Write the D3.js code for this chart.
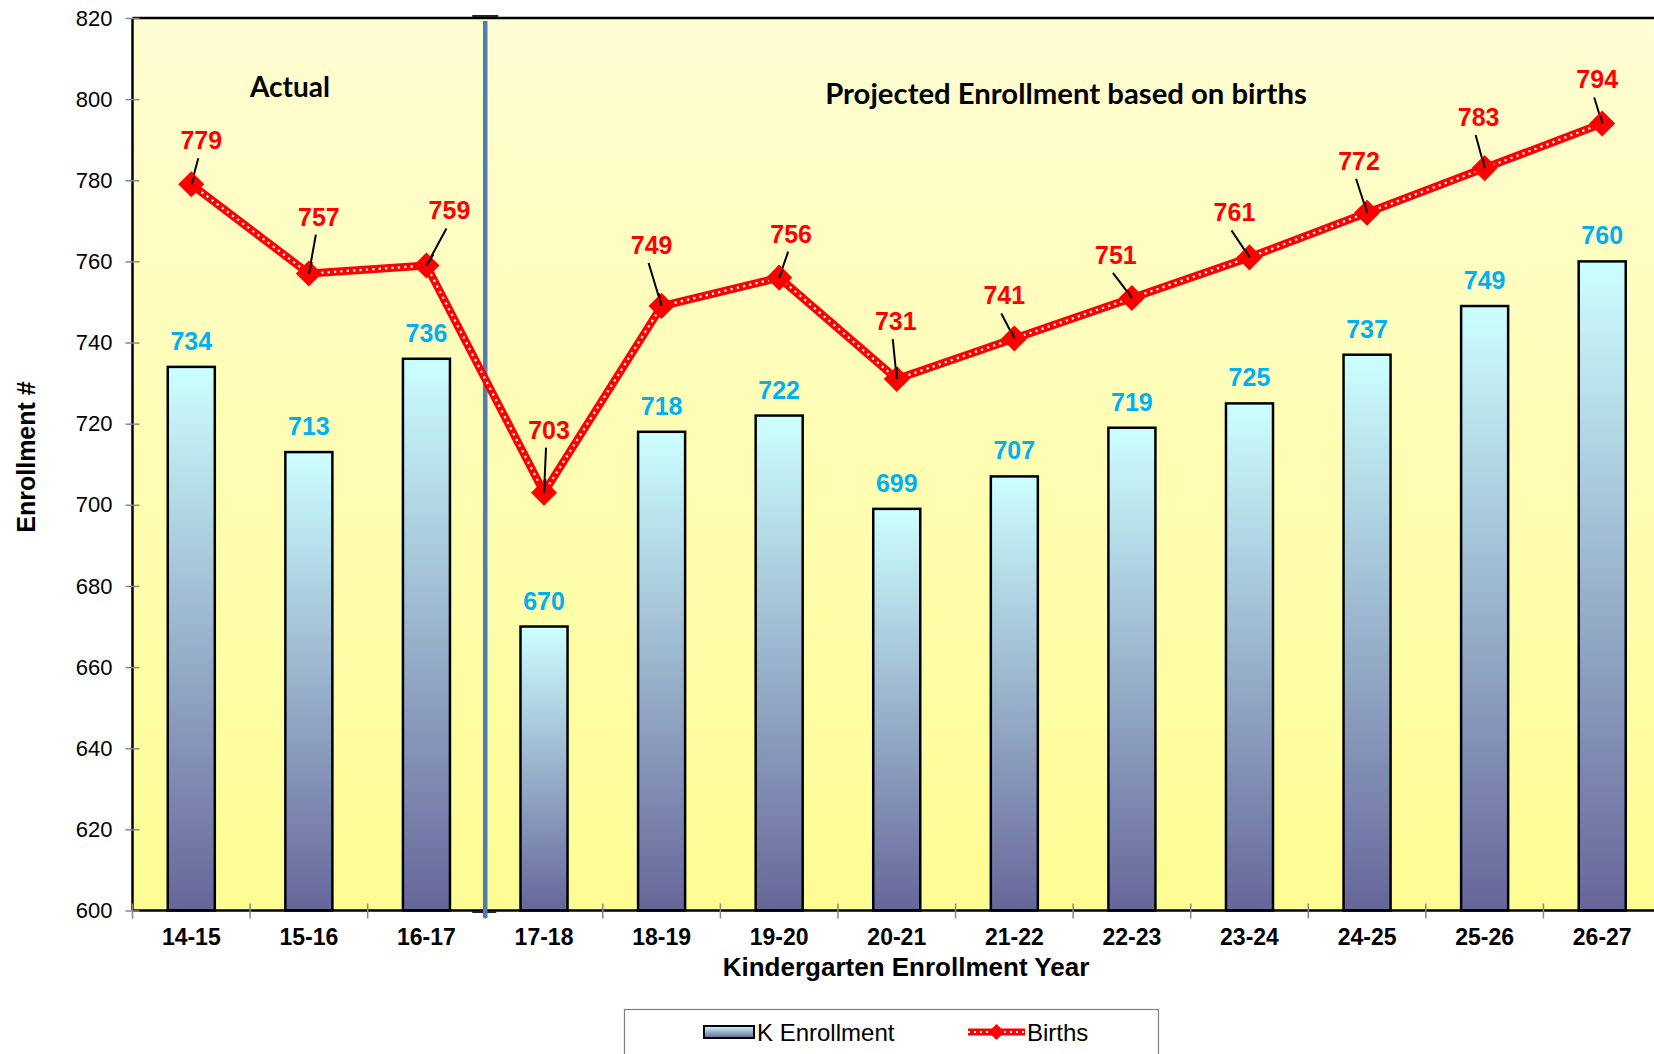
<!DOCTYPE html>
<html><head><meta charset="utf-8">
<script src="https://cdn.jsdelivr.net/npm/d3@7"></script>
<style>body{margin:0;background:#fff;overflow:hidden}</style>
</head><body><svg id="c" width="1654" height="1054"></svg>
<script>
const years = ["14-15","15-16","16-17","17-18","18-19","19-20","20-21","21-22","22-23","23-24","24-25","25-26","26-27"];
const kEnrollment = [734,713,736,670,718,722,699,707,719,725,737,749,760];
const births = [779,757,759,703,749,756,731,741,751,761,772,783,794];
const yTicks = [600,620,640,660,680,700,720,740,760,780,800,820];
const birthLabelOffsets = [[10,-44],[10,-57],[23,-55],[5,-63],[-10,-61],[12,-44],[-1,-58],[-10,-43],[-16,-43],[-15,-45],[-8,-52],[-6,-51],[-5,-44]];
const seriesNames = ["K Enrollment","Births"];
const sectionLabels = ["Actual","Projected Enrollment based on births"];
const axisTitles = {x:"Kindergarten Enrollment Year", y:"Enrollment #"};

const ARIAL = "'Liberation Sans', Arial, sans-serif";
const svg = d3.select("#c");
const L = 132.5, R = 1661, T = 18, B = 910.5;

const x = d3.scaleBand().domain(years).range([L, R]).paddingInner(0.6).paddingOuter(0.3);
const xs = d3.scaleBand().domain(years).range([L, R]);
const y = d3.scaleLinear().domain([600, 820]).range([B, T]);

const defs = svg.append("defs");
const bg = defs.append("linearGradient").attr("id","bg").attr("x1",0).attr("y1",0).attr("x2",0).attr("y2",1);
bg.append("stop").attr("offset","0%").attr("stop-color","#FFFDD2");
bg.append("stop").attr("offset","100%").attr("stop-color","#FDFD94");
const bar = defs.append("linearGradient").attr("id","bar").attr("x1",0).attr("y1",0).attr("x2",0).attr("y2",1);
bar.append("stop").attr("offset","0%").attr("stop-color","#CCFFFF");
bar.append("stop").attr("offset","100%").attr("stop-color","#666699");
const blur = defs.append("filter").attr("id","glow").attr("x","-200%").attr("width","500%");
blur.append("feGaussianBlur").attr("stdDeviation",1.2);

// plot background
svg.append("rect").attr("x",L).attr("y",T).attr("width",R-L).attr("height",B-T).attr("fill","url(#bg)");

// bars
svg.append("g").selectAll("rect").data(kEnrollment).join("rect")
  .attr("x",(d,i)=>x(years[i])).attr("y",d=>y(d))
  .attr("width",x.bandwidth()).attr("height",d=>B-y(d))
  .attr("fill","url(#bar)").attr("stroke","#000").attr("stroke-width",2.5);

// axes lines
svg.append("line").attr("x1",L).attr("x2",R).attr("y1",T).attr("y2",T).attr("stroke","#000").attr("stroke-width",2.5);
svg.append("line").attr("x1",L).attr("x2",L).attr("y1",T).attr("y2",B).attr("stroke","#000").attr("stroke-width",2.5);
svg.append("line").attr("x1",L).attr("x2",R).attr("y1",B).attr("y2",B).attr("stroke","#000").attr("stroke-width",2.5);

// y axis
const ya = svg.append("g").attr("transform",`translate(${L},0)`)
  .call(d3.axisLeft(y).tickValues(yTicks).tickSize(7).tickPadding(13));
ya.select(".domain").remove();
ya.selectAll(".tick line").attr("x2",-7).attr("x1",7).attr("stroke","#888").attr("stroke-width",1.5);
ya.selectAll(".tick text").attr("font-family",ARIAL).attr("font-size",22).attr("fill","#000");

// x axis
const xa = svg.append("g").attr("transform",`translate(0,${B})`)
  .call(d3.axisBottom(x).tickSize(0).tickPadding(18));
xa.select(".domain").remove();
xa.selectAll(".tick text").attr("font-family",ARIAL).attr("font-size",23).attr("font-weight","bold").attr("fill","#000");
svg.append("g").selectAll("line").data(years.concat(["end"])).join("line")
  .attr("x1",(d,i)=>L+i*xs.step()).attr("x2",(d,i)=>L+i*xs.step())
  .attr("y1",B-7).attr("y2",B+8).attr("stroke","#888").attr("stroke-width",1.5);

// divider between actual and projected
const divX = xs(years[3]);
svg.append("line").attr("x1",divX-13).attr("x2",divX+13).attr("y1",16).attr("y2",16).attr("stroke","#222").attr("stroke-width",2);
svg.append("line").attr("x1",divX-13).attr("x2",divX+11).attr("y1",B+1.5).attr("y2",B+1.5).attr("stroke","#222").attr("stroke-width",2);
svg.append("line").attr("x1",divX).attr("x2",divX).attr("y1",21).attr("y2",918).attr("stroke","#A9C1DE").attr("stroke-width",7).attr("filter","url(#glow)");
svg.append("line").attr("x1",divX).attr("x2",divX).attr("y1",21).attr("y2",918).attr("stroke","#4F7DB3").attr("stroke-width",4.5);

// bar labels
svg.append("g").selectAll("text").data(kEnrollment).join("text")
  .attr("x",(d,i)=>x(years[i])+x.bandwidth()/2).attr("y",d=>y(d)-17)
  .attr("text-anchor","middle").attr("font-family",ARIAL).attr("font-weight","bold").attr("font-size",25)
  .attr("fill","#00B0F0").text(d=>d);

// births line
const pts = births.map((d,i)=>[xs(years[i])+xs.step()/2, y(d)]);
const line = d3.line();
svg.append("path").attr("d",line(pts)).attr("fill","none").attr("stroke","#FF0000").attr("stroke-width",8).attr("stroke-linejoin","round");
svg.append("path").attr("d",line(pts)).attr("fill","none").attr("stroke","#fff").attr("stroke-width",2.2).attr("stroke-dasharray","2.2,4.2");

// leader lines
svg.append("g").selectAll("line").data(pts).join("line")
  .attr("x1",(p,i)=>p[0]+birthLabelOffsets[i][0]-3).attr("y1",(p,i)=>p[1]+birthLabelOffsets[i][1]+18)
  .attr("x2",p=>p[0]).attr("y2",p=>p[1]).attr("stroke","#000").attr("stroke-width",2);

// markers
svg.append("g").selectAll("path").data(pts).join("path")
  .attr("d",d3.symbol(d3.symbolSquare, 340)())
  .attr("transform",p=>`translate(${p[0]},${p[1]}) rotate(45)`).attr("fill","#FF0000");
svg.append("g").selectAll("line").data(pts).join("line")
  .attr("x1",(p,i)=>p[0]+birthLabelOffsets[i][0]*0.3).attr("y1",(p,i)=>p[1]+(birthLabelOffsets[i][1]+18)*0.3)
  .attr("x2",p=>p[0]).attr("y2",p=>p[1]).attr("stroke","#000").attr("stroke-width",2);

// births labels
svg.append("g").selectAll("text").data(births).join("text")
  .attr("x",(d,i)=>pts[i][0]+birthLabelOffsets[i][0]).attr("y",(d,i)=>pts[i][1]+birthLabelOffsets[i][1]+9)
  .attr("text-anchor","middle").attr("font-family",ARIAL).attr("font-weight","bold").attr("font-size",25)
  .attr("fill","#FF0000").text(d=>d);

// section labels
svg.append("text").attr("x",290).attr("y",97).attr("text-anchor","middle")
  .attr("font-family","Lato, 'Open Sans', sans-serif").attr("font-weight","bold").attr("font-size",28).text(sectionLabels[0]);
svg.append("text").attr("x",1066).attr("y",104).attr("text-anchor","middle")
  .attr("font-family","Lato, 'Open Sans', sans-serif").attr("font-weight","bold").attr("font-size",29.3).text(sectionLabels[1]);

// axis titles
svg.append("text").attr("x",906).attr("y",976).attr("text-anchor","middle")
  .attr("font-family",ARIAL).attr("font-weight","bold").attr("font-size",26).text(axisTitles.x);
svg.append("text").attr("transform","translate(35,457) rotate(-90)").attr("text-anchor","middle")
  .attr("font-family",ARIAL).attr("font-weight","bold").attr("font-size",25).text(axisTitles.y);

// legend
const lg = svg.append("g");
lg.append("rect").attr("x",624.5).attr("y",1009.5).attr("width",534).attr("height",70).attr("fill","#fff").attr("stroke","#808080").attr("stroke-width",1.2);
lg.append("rect").attr("x",704).attr("y",1026).attr("width",50).attr("height",12).attr("fill","url(#bar)").attr("stroke","#000").attr("stroke-width",2);
lg.append("text").attr("x",757).attr("y",1041).attr("font-family",ARIAL).attr("font-size",24).text(seriesNames[0]);
lg.append("line").attr("x1",968).attr("x2",1025).attr("y1",1032).attr("y2",1032).attr("stroke","#FF0000").attr("stroke-width",7);
lg.append("line").attr("x1",968).attr("x2",1025).attr("y1",1032).attr("y2",1032).attr("stroke","#fff").attr("stroke-width",2).attr("stroke-dasharray","2,4");
lg.append("path").attr("d",d3.symbol(d3.symbolSquare, 130)()).attr("transform","translate(996.5,1032) rotate(45)").attr("fill","#FF0000");
lg.append("text").attr("x",1027).attr("y",1041).attr("font-family",ARIAL).attr("font-size",24).text(seriesNames[1]);
</script></body></html>
